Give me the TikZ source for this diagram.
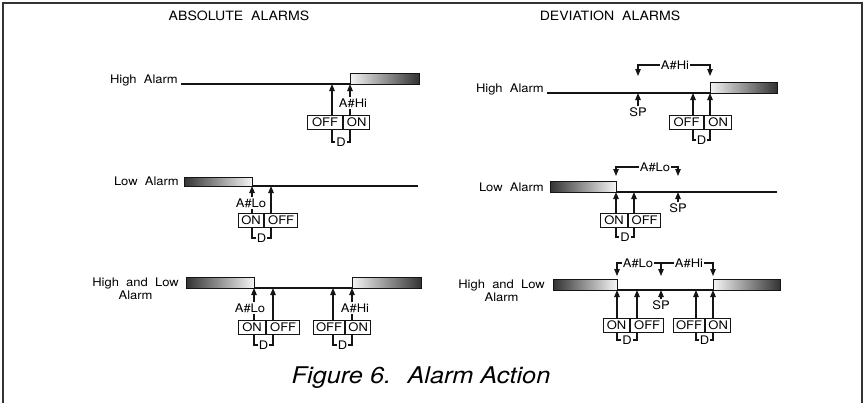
\documentclass[tikz,border=0pt]{standalone}
\usepackage{fontspec}
\setmainfont{TeX Gyre Heros}[FakeStretch=1.1]
\usetikzlibrary{arrows.meta,positioning,calc}
\definecolor{ink}{HTML}{141414}
\definecolor{framegray}{HTML}{333333}
\tikzset{
  lbl/.style={inner sep=1pt,font=\fontsize{11.8}{13.5}\selectfont},
  sidelbl/.style={lbl,align=center},
  headlbl/.style={inner sep=0pt,font=\fontsize{12.8}{15}\selectfont},
  figcap/.style={inner sep=0pt,font=\fontsize{23}{27}\selectfont\itshape},
  cell/.style={
    draw=ink,line width=1.1pt,minimum height=14pt,
    inner sep=0pt,font=\fontsize{11.8}{13.5}\selectfont
  },
  hibar/.style={draw=ink,line width=.8pt,left color=gray!8,right color=black!80},
  lobar/.style={draw=ink,line width=.8pt,left color=black!80,right color=gray!8},
  alarmline/.style={draw=ink,line width=1.1pt},
  bracket/.style={draw=ink,line width=1.1pt},
  arrow/.style={-{Triangle[length=7pt,width=5.5pt]},draw=ink,line width=1.1pt},
  frameline/.style={draw=framegray,line width=2.2pt}
}
\begin{document}
\begin{tikzpicture}[x=1pt,y=-1pt]
\useasboundingbox (0,0) rectangle (866,402);
\draw[frameline] (3,410) -- (3,3) -- (862,3) -- (862,410);
\node[headlbl] (abs) at (239,16) {ABSOLUTE~ ALARMS};
\node[headlbl] (dev) at (610,16) {DEVIATION~ ALARMS};
\node[figcap] (cap) at (421,378) {Figure 6.~ Alarm Action};

% absolute, high alarm
\node[sidelbl,anchor=base east] (ahlbl) at (179,83) {High~ Alarm};
\coordinate (ahStart) at (181,84);
\coordinate (ahOff) at (332,84);
\coordinate (ahOn) at (350,84);
\path[hibar] (350,73) rectangle (419,84);
\draw[alarmline] (ahStart) -- (ahOn);
\node[cell,minimum width=35pt,anchor=north west] (ahoff) at (307,115) {OFF};
\node[cell,minimum width=26pt,anchor=west] (ahon) at (ahoff.east) {ON};
\node[lbl] (ahhi) at (353,103) {A\#Hi};
\draw[arrow] (ahOff |- ahoff.north) -- (ahOff);
\draw[arrow] (ahOn |- ahhi.north) -- (ahOn);
\draw[bracket] (ahOn |- ahon.north) -- (ahOn |- ahhi.south);
\node[lbl] (ahd) at (341,142) {D};
\draw[bracket] (ahOff |- ahoff.south) |- (ahd.west);
\draw[bracket] (ahd.east) -| (ahOn |- ahon.south);

% absolute, low alarm
\node[sidelbl,anchor=base east] (allbl) at (180,185) {Low~ Alarm};
\coordinate (alOn) at (252,186);
\coordinate (alOff) at (271,186);
\coordinate (alEnd) at (418,186);
\path[lobar] (184,177) rectangle (252,186);
\draw[alarmline] (alOn) -- (alEnd);
\node[cell,minimum width=25pt,anchor=north west] (alon) at (238,213) {ON};
\node[cell,minimum width=33pt,anchor=west] (aloff) at (alon.east) {OFF};
\node[lbl] (allo) at (251,203) {A\#Lo};
\draw[arrow] (alOn |- allo.north) -- (alOn);
\draw[bracket] (alOn |- alon.north) -- (alOn |- allo.south);
\draw[arrow] (alOff |- aloff.north) -- (alOff);
\node[lbl] (ald) at (261.5,238) {D};
\draw[bracket] (alOn |- alon.south) |- (ald.west);
\draw[bracket] (ald.east) -| (alOff |- aloff.south);

% absolute, high and low alarm
\node[sidelbl,anchor=east] (ablbl) at (180,289) {High~ and~ Low\\Alarm};
\coordinate (abLoOn) at (254,288);
\coordinate (abLoOff) at (273,288);
\coordinate (abHiOff) at (333,288);
\coordinate (abHiOn) at (352,288);
\path[lobar] (186,277) rectangle (254,288);
\path[hibar] (352,277) rectangle (421,288);
\draw[alarmline] (abLoOn) -- (abHiOn);
\node[cell,minimum width=27pt,anchor=north west] (ablon) at (238,320) {ON};
\node[cell,minimum width=33pt,anchor=west] (abloff) at (ablon.east) {OFF};
\node[cell,minimum width=31pt,anchor=north west] (abhioff) at (313,320) {OFF};
\node[cell,minimum width=25pt,anchor=west] (abhion) at (abhioff.east) {ON};
\node[lbl] (ablo) at (250,308) {A\#Lo};
\node[lbl] (abhi) at (355,308) {A\#Hi};
\draw[arrow] (abLoOn |- ablo.north) -- (abLoOn);
\draw[bracket] (abLoOn |- ablon.north) -- (abLoOn |- ablo.south);
\draw[arrow] (abLoOff |- abloff.north) -- (abLoOff);
\draw[arrow] (abHiOff |- abhioff.north) -- (abHiOff);
\draw[arrow] (abHiOn |- abhi.north) -- (abHiOn);
\draw[bracket] (abHiOn |- abhion.north) -- (abHiOn |- abhi.south);
\node[lbl] (abdlo) at (263.5,345) {D};
\node[lbl] (abdhi) at (342.5,345) {D};
\draw[bracket] (abLoOn |- ablon.south) |- (abdlo.west);
\draw[bracket] (abdlo.east) -| (abLoOff |- abloff.south);
\draw[bracket] (abHiOff |- abhioff.south) |- (abdhi.west);
\draw[bracket] (abdhi.east) -| (abHiOn |- abhion.south);

% deviation, high alarm
\node[sidelbl,anchor=base east] (dhlbl) at (545,92) {High~ Alarm};
\coordinate (dhStart) at (547,93);
\coordinate (dhSP) at (638,93);
\coordinate (dhOff) at (693,93);
\coordinate (dhOn) at (710,93);
\coordinate (dhL) at (638,76);
\coordinate (dhR) at (710,76);
\path[hibar] (710,82) rectangle (777,93);
\draw[alarmline] (dhStart) -- (dhOn);
\node[lbl] (dhsp) at (638,112) {SP};
\draw[arrow] (dhSP |- dhsp.north) -- (dhSP);
\node[lbl] (dhhi) at (675,65) {A\#Hi};
\draw[arrow] (dhhi.west) -| (dhL);
\draw[arrow] (dhhi.east) -| (dhR);
\node[cell,minimum width=34pt,anchor=north west] (dhoff) at (669,115) {OFF};
\node[cell,minimum width=27pt,anchor=west] (dhon) at (dhoff.east) {ON};
\draw[arrow] (dhOff |- dhoff.north) -- (dhOff);
\draw[arrow] (dhOn |- dhon.north) -- (dhOn);
\node[lbl] (dhd) at (701.5,140) {D};
\draw[bracket] (dhOff |- dhoff.south) |- (dhd.west);
\draw[bracket] (dhd.east) -| (dhOn |- dhon.south);

% deviation, low alarm
\node[sidelbl,anchor=base east] (dllbl) at (545,191) {Low~ Alarm};
\coordinate (dlOn) at (616,192);
\coordinate (dlOff) at (634,192);
\coordinate (dlSP) at (678,192);
\coordinate (dlEnd) at (777,192);
\coordinate (dlL) at (616,176);
\coordinate (dlR) at (678,176);
\path[lobar] (550,181) rectangle (616,192);
\draw[alarmline] (dlOn) -- (dlEnd);
\node[lbl] (dlsp) at (678,208) {SP};
\draw[arrow] (dlSP |- dlsp.north) -- (dlSP);
\node[lbl] (dllo) at (655,167) {A\#Lo};
\draw[arrow] (dllo.west) -| (dlL);
\draw[arrow] (dllo.east) -| (dlR);
\node[cell,minimum width=27pt,anchor=north west] (dlon) at (600,213) {ON};
\node[cell,minimum width=32pt,anchor=west] (dloff) at (dlon.east) {OFF};
\draw[arrow] (dlOn |- dlon.north) -- (dlOn);
\draw[arrow] (dlOff |- dloff.north) -- (dlOff);
\node[lbl] (dld) at (625,237) {D};
\draw[bracket] (dlOn |- dlon.south) |- (dld.west);
\draw[bracket] (dld.east) -| (dlOff |- dloff.south);

% deviation, high and low alarm
\node[sidelbl,anchor=east] (dblbl) at (546,291) {High~ and~ Low\\Alarm};
\coordinate (dbLoOn) at (617,290);
\coordinate (dbLoOff) at (637,290);
\coordinate (dbSP) at (661,290);
\coordinate (dbHiOff) at (696,290);
\coordinate (dbHiOn) at (713,290);
\coordinate (dbL) at (617,276);
\coordinate (dbM) at (661,276);
\coordinate (dbR) at (713,276);
\path[lobar] (553,279) rectangle (617,290);
\path[hibar] (713,279) rectangle (780,290);
\draw[alarmline] (dbLoOn) -- (dbHiOn);
\node[lbl] (dbsp) at (661,305) {SP};
\draw[arrow] (dbSP |- dbsp.north) -- (dbSP);
\node[lbl] (dblo) at (638,263) {A\#Lo};
\node[lbl] (dbhi) at (689,263) {A\#Hi};
\draw[arrow] (dblo.west) -| (dbL);
\draw[bracket] (dblo.east) -- (dbhi.west);
\draw[arrow] (dbM |- dblo.east) -- (dbM);
\draw[arrow] (dbhi.east) -| (dbR);
\node[cell,minimum width=26pt,anchor=north west] (dblon) at (603,318) {ON};
\node[cell,minimum width=33pt,anchor=west] (dbloff) at (dblon.east) {OFF};
\node[cell,minimum width=31pt,anchor=north west] (dbhioff) at (673,318) {OFF};
\node[cell,minimum width=25pt,anchor=west] (dbhion) at (dbhioff.east) {ON};
\draw[arrow] (dbLoOn |- dblon.north) -- (dbLoOn);
\draw[arrow] (dbLoOff |- dbloff.north) -- (dbLoOff);
\draw[arrow] (dbHiOff |- dbhioff.north) -- (dbHiOff);
\draw[arrow] (dbHiOn |- dbhion.north) -- (dbHiOn);
\node[lbl] (dbdlo) at (627,340) {D};
\node[lbl] (dbdhi) at (704.5,340) {D};
\draw[bracket] (dbLoOn |- dblon.south) |- (dbdlo.west);
\draw[bracket] (dbdlo.east) -| (dbLoOff |- dbloff.south);
\draw[bracket] (dbHiOff |- dbhioff.south) |- (dbdhi.west);
\draw[bracket] (dbdhi.east) -| (dbHiOn |- dbhion.south);
\end{tikzpicture}
\end{document}
